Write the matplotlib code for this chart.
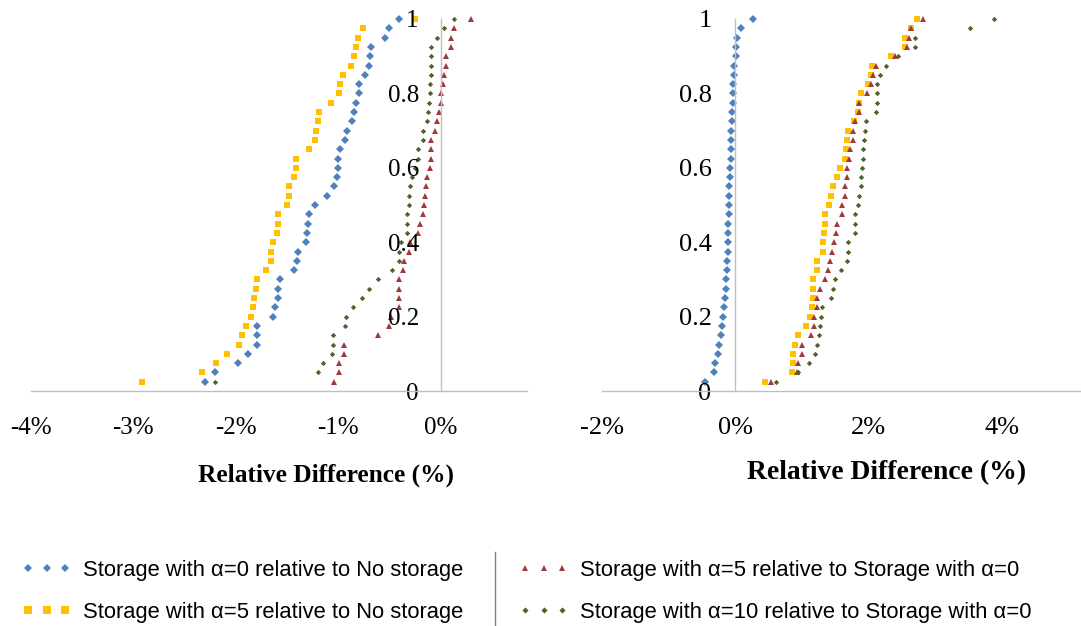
import matplotlib
matplotlib.use("Agg")
import matplotlib.pyplot as plt
from matplotlib.lines import Line2D
from matplotlib.ticker import FuncFormatter, MultipleLocator

plt.rcParams['font.family'] = ['Liberation Serif', 'DejaVu Serif']
plt.rcParams['axes.unicode_minus'] = False

# cumulative fraction of instances (40 sorted cases)
cdf = [0.025, 0.05, 0.075, 0.1, 0.125, 0.15, 0.175, 0.2, 0.225, 0.25,
       0.275, 0.3, 0.325, 0.35, 0.375, 0.4, 0.425, 0.45, 0.475, 0.5,
       0.525, 0.55, 0.575, 0.6, 0.625, 0.65, 0.675, 0.7, 0.725, 0.75,
       0.775, 0.8, 0.825, 0.85, 0.875, 0.9, 0.925, 0.95, 0.975, 1.0]

# left panel, relative difference in %
left_a0_vs_none = [-2.30, -2.20, -1.98, -1.88, -1.79, -1.79, -1.79, -1.64, -1.62, -1.59,
                   -1.59, -1.57, -1.43, -1.40, -1.39, -1.32, -1.31, -1.30, -1.29, -1.23,
                   -1.11, -1.04, -1.01, -1.00, -1.00, -0.98, -0.94, -0.92, -0.87, -0.85,
                   -0.83, -0.80, -0.80, -0.74, -0.70, -0.69, -0.68, -0.55, -0.51, -0.41]
left_a5_vs_none = [-2.91, -2.33, -2.19, -2.09, -1.97, -1.94, -1.90, -1.85, -1.83, -1.82,
                   -1.80, -1.79, -1.71, -1.66, -1.66, -1.64, -1.60, -1.59, -1.59, -1.50,
                   -1.48, -1.48, -1.43, -1.41, -1.41, -1.29, -1.23, -1.22, -1.20, -1.19,
                   -1.07, -0.99, -0.98, -0.96, -0.88, -0.85, -0.83, -0.81, -0.76, -0.25]
left_a5_vs_a0 = [-1.04, -0.99, -0.99, -0.95, -0.95, -0.61, -0.51, -0.49, -0.41, -0.41,
                 -0.41, -0.41, -0.37, -0.36, -0.31, -0.30, -0.22, -0.20, -0.18, -0.17,
                 -0.16, -0.15, -0.14, -0.11, -0.10, -0.10, -0.10, -0.06, -0.04, -0.02,
                 0.00, 0.00, 0.02, 0.03, 0.05, 0.05, 0.10, 0.10, 0.13, 0.29]
left_a10_vs_a0 = [-2.20, -1.20, -1.15, -1.06, -1.05, -1.05, -0.94, -0.93, -0.86, -0.77,
                  -0.70, -0.61, -0.48, -0.41, -0.41, -0.39, -0.33, -0.33, -0.33, -0.31,
                  -0.31, -0.30, -0.28, -0.25, -0.22, -0.22, -0.18, -0.18, -0.14, -0.13,
                  -0.12, -0.11, -0.11, -0.10, -0.10, -0.10, -0.10, -0.04, 0.03, 0.13]

# right panel, relative difference in %
right_a0_vs_none = [-0.46, -0.32, -0.30, -0.26, -0.25, -0.21, -0.20, -0.18, -0.17, -0.15,
                    -0.14, -0.14, -0.13, -0.13, -0.11, -0.11, -0.11, -0.11, -0.10, -0.10,
                    -0.09, -0.09, -0.08, -0.08, -0.07, -0.07, -0.06, -0.06, -0.05, -0.05,
                    -0.04, -0.04, -0.03, -0.02, -0.02, 0.01, 0.01, 0.02, 0.09, 0.26]
right_a5_vs_none = [0.45, 0.85, 0.86, 0.87, 0.89, 0.94, 1.06, 1.12, 1.15, 1.16,
                    1.16, 1.17, 1.22, 1.23, 1.31, 1.32, 1.33, 1.34, 1.35, 1.41,
                    1.44, 1.47, 1.52, 1.57, 1.65, 1.66, 1.68, 1.69, 1.78, 1.84,
                    1.86, 1.89, 1.99, 2.04, 2.05, 2.34, 2.54, 2.54, 2.63, 2.73]
right_a5_vs_a0 = [0.53, 0.93, 0.94, 1.00, 1.00, 1.13, 1.18, 1.18, 1.22, 1.23,
                  1.27, 1.34, 1.39, 1.42, 1.45, 1.48, 1.51, 1.53, 1.60, 1.60,
                  1.64, 1.65, 1.67, 1.68, 1.71, 1.72, 1.77, 1.77, 1.80, 1.85,
                  1.86, 1.97, 2.03, 2.06, 2.11, 2.39, 2.57, 2.61, 2.64, 2.82]
right_a10_vs_a0 = [0.61, 0.94, 1.11, 1.19, 1.23, 1.25, 1.27, 1.28, 1.30, 1.43,
                   1.47, 1.50, 1.59, 1.68, 1.69, 1.69, 1.80, 1.80, 1.80, 1.84,
                   1.85, 1.89, 1.89, 1.90, 1.91, 1.92, 1.93, 1.94, 1.96, 2.11,
                   2.13, 2.13, 2.13, 2.17, 2.26, 2.44, 2.69, 2.70, 3.52, 3.87]

labels = ['Storage with α=0 relative to No storage',
          'Storage with α=5 relative to No storage',
          'Storage with α=5 relative to Storage with α=0',
          'Storage with α=10 relative to Storage with α=0']

# marker, colour, size per series
styles = [('D', '#4F81BD', 3.8),
          ('s', '#FFC000', 5.0),
          ('^', '#A0393B', 4.3),
          ('D', '#4F6228', 2.7)]

W, H = 1081, 626
fig = plt.figure(figsize=(W / 100, H / 100), dpi=100, facecolor='white')
ax1 = fig.add_axes([30.6 / W, 1 - 391 / H, 496.4 / W, 372 / H])
ax2 = fig.add_axes([601.7 / W, 1 - 391 / H, 479.3 / W, 372 / H])

pct = FuncFormatter(lambda v, p: f'{v:.0f}%')
frac = FuncFormatter(lambda v, p: f'{v:g}')


def draw(ax, series, xlim, xstep, fs, ypad, xpad):
    handles = []
    for xs, (m, c, ms) in zip(series, styles):
        h, = ax.plot(xs, cdf, linestyle='none', marker=m, color=c, markersize=ms,
                     markeredgewidth=0, clip_on=False, zorder=1)
        handles.append(h)
    ax.set_xlim(*xlim)
    ax.set_ylim(0, 1)
    ax.patch.set_alpha(0)
    ax.spines[['top', 'right']].set_visible(False)
    ax.spines['left'].set_position(('data', 0))
    for s in ('left', 'bottom'):
        ax.spines[s].set_color('#BFBFBF')
        ax.spines[s].set_linewidth(1.0)
    ax.xaxis.set_major_locator(MultipleLocator(xstep))
    ax.yaxis.set_major_locator(MultipleLocator(0.2))
    ax.xaxis.set_major_formatter(pct)
    ax.yaxis.set_major_formatter(frac)
    ax.tick_params(axis='y', length=0, labelsize=fs, pad=ypad)
    ax.tick_params(axis='x', length=0, labelsize=fs, pad=xpad)
    return handles


h1 = draw(ax1, [left_a0_vs_none, left_a5_vs_none, left_a5_vs_a0, left_a10_vs_a0],
          (-4, 0.838), 1, 18, 16, 19)
draw(ax2, [right_a0_vs_none, right_a5_vs_none, right_a5_vs_a0, right_a10_vs_a0],
     (-2, 5.18), 2, 19, 17, 19)

fig.text(326.5 / W, 1 - 475 / H, 'Relative Difference (%)', ha='center', va='center',
         fontsize=18.3, fontweight='bold')
fig.text(887 / W, 1 - 473 / H, 'Relative Difference (%)', ha='center', va='center',
         fontsize=19.9, fontweight='bold')

leg_font = {'family': 'Liberation Sans', 'size': 15.8}
for hs, labs, x0 in [(h1[:2], labels[:2], 21.5), (h1[2:], labels[2:], 518.5)]:
    fig.legend(hs, labs, loc='center left', bbox_to_anchor=(x0 / W, 1 - 591.5 / H),
               frameon=False, numpoints=3, handlelength=2.3, handletextpad=0.5,
               borderpad=0, borderaxespad=0, labelspacing=0.95, markerscale=1.15,
               prop=leg_font)

fig.add_artist(Line2D([495 / W, 495 / W], [1 - 552 / H, 1 - 625 / H],
                      color='#7F7F7F', linewidth=1.0))

fig.savefig('out.png', dpi=100)
